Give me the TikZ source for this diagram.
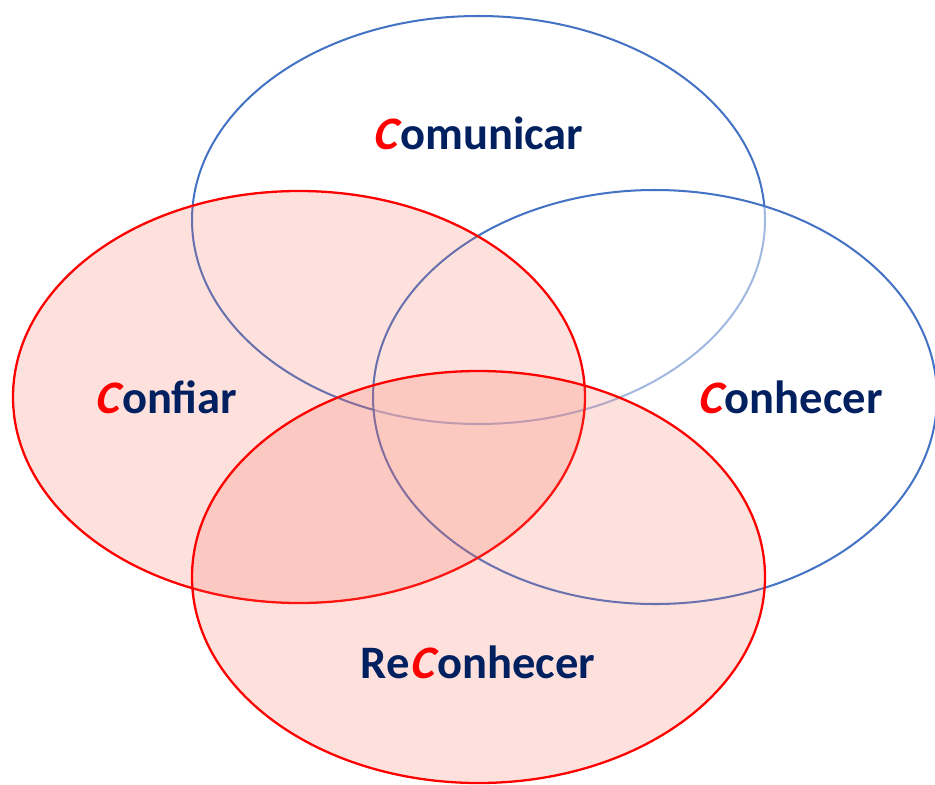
\documentclass[tikz,border=0pt]{standalone}
\usepackage{fontspec}
\setmainfont{Carlito}
\newfontfamily\slantfont{Carlito}[FakeSlant=0.22]
\definecolor{vennblue}{RGB}{68,114,196}
\definecolor{vennred}{RGB}{255,0,0}
\definecolor{vennpink}{RGB}{248,105,85}
\definecolor{venntext}{RGB}{0,32,96}
\newcommand{\redC}{\textcolor{vennred}{\slantfont\bfseries C}\kern0.06em}
\tikzset{
  blueset/.style={draw=vennblue,line width=1.15pt},
  redset/.style={draw=vennred,line width=1.3pt,fill=vennpink,fill opacity=0.2},
  setlabel/.style={font=\bfseries\fontsize{26.5}{30}\selectfont,text=venntext,inner sep=0pt}
}

\begin{document}
\begin{tikzpicture}[x=0.02cm,y=-0.02cm]
                \useasboundingbox (0,0) rectangle (935,784);
                % Comunicar, drawn first so the others fade its outline
                \draw[blueset] (478.5,220) ellipse [x radius=286.5, y radius=204];
                % Conhecer, half-transparent white
                \draw[blueset,fill=white,fill opacity=0.5] (655,397) ellipse [x radius=282, y radius=207];
                % Confiar and ReConhecer, pink
                \draw[redset] (299,397) ellipse [x radius=286, y radius=206];
                \draw[redset] (478.5,577) ellipse [x radius=286.5, y radius=206];
                % labels
                \node[setlabel] (comunicar) at (478,133) {{\redC}omunicar};
                \node[setlabel] (confiar) at (166,397) {{\redC}onfiar};
                \node[setlabel] (conhecer) at (790,397) {{\redC}onhecer};
                \node[setlabel] (reconhecer) at (478,662) {Re{\redC}onhecer};
            \end{tikzpicture}
\end{document}
